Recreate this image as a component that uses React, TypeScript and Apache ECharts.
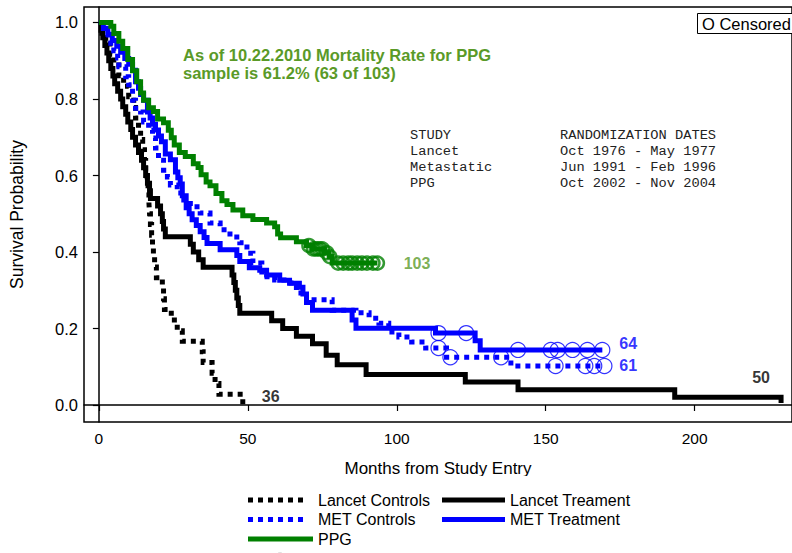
import React, { useEffect, useRef } from "react";
import * as echarts from "echarts";

// Lancet Controls (black dotted)
const lcT = [0,1,2.3,3.7,5,6.7,8.3,10,11.7,12.3,13.3,14,14.7,15.3,15.7,16.2,16.5,16.8,17,17.3,17.7,18,18.3,18.7,19.3,21.3,21.7,22,24.3,26.3,28,34.7,35,38,39,40.3,48.3];
const lcS = [1,.972,.944,.917,.889,.861,.833,.806,.778,.75,.722,.694,.667,.639,.611,.583,.556,.528,.5,.472,.444,.417,.389,.361,.333,.306,.278,.25,.222,.194,.167,.139,.111,.083,.056,.028,0];

// Lancet Treatment (black solid)
const ltT = [0,0.7,1.3,2,2.7,3.3,4,4.7,5.3,6.3,7.3,8,9,9.7,10.7,11.3,12.3,13.3,14.3,15,15.7,16.3,17,17.3,19.7,20.7,21.3,21.7,22.3,30.7,31.7,33.5,35,44.7,45.3,45.8,46.3,46.8,47.3,58,61.7,66.3,71.7,76.3,80,89.7,123,140.7,193.3,229];
const ltS = [1,.98,.96,.94,.92,.90,.88,.86,.84,.82,.80,.78,.76,.74,.72,.70,.68,.66,.64,.62,.60,.58,.56,.54,.52,.50,.48,.46,.44,.42,.40,.38,.36,.34,.32,.30,.28,.26,.24,.22,.20,.18,.16,.13,.105,.08,.06,.04,.02,.005];

// MET Controls (blue dotted)
const mcT = [0,2.3,4,5,6.3,6.7,9,10,11.3,12.3,14,15,16.7,18,19,20,21.7,23,24,26.3,28.5,30.7,34,37.3,40.7,44,47.3,49.7,51.7,54.7,59,63,66.3,69.7,78.3,86.3,90.7,94,97.3,100.7,105,109.7,116.7,138.3,169.7];
const mcS = [1,.967,.946,.926,.907,.884,.858,.837,.797,.776,.766,.74,.719,.698,.672,.64,.614,.596,.575,.554,.536,.518,.502,.476,.458,.439,.424,.397,.371,.335,.327,.319,.293,.275,.248,.241,.227,.214,.191,.178,.165,.149,.125,.102,.102];
const mcCensT = [114,118,135,153.3,163.3,166.3,169.7];
const mcCensS = [.149,.125,.125,.102,.102,.102,.102];

// MET Treatment (blue solid)
const mtT = [0,1.5,3,4.5,6,7.3,8.7,10,11.3,12.3,13.3,14,15,16.3,17.2,18,19,20,21,22.3,24,25.7,26.5,27.3,28,29.3,30.3,31.3,32.7,34,35.3,36.3,40.7,46.3,47.3,50.5,54,56.3,60.7,64,67.3,68.5,69.7,71.7,85,86.3,113,126.3,128,169];
const mtS = [1,.984,.969,.953,.938,.922,.906,.891,.875,.845,.828,.812,.797,.766,.75,.734,.719,.703,.688,.656,.641,.609,.594,.578,.547,.516,.5,.484,.469,.453,.438,.422,.406,.391,.375,.359,.352,.34,.326,.318,.308,.29,.268,.248,.222,.201,.188,.168,.144,.144];
const mtCensT = [114,123.3,140.7,151.7,154,159,164,169];
const mtCensS = [.188,.188,.144,.144,.144,.144,.144,.144];

// PPG (green)
const pgT = [0,4,5,6.7,8,9.7,11.3,12.7,14,15,16.7,18.3,19.7,21.7,23.3,24.3,25.3,27,29,31.7,33.3,34.3,36,37.3,39.3,41.3,43,45,48.3,51.7,56.3,59,60,61,66.3,69.7,71.7,75.7,77.3,78.3,93.5];
const pgS = [1,.99,.971,.951,.932,.903,.874,.845,.816,.797,.777,.767,.748,.738,.718,.699,.68,.66,.65,.631,.621,.602,.583,.573,.553,.534,.524,.51,.495,.485,.476,.466,.447,.437,.427,.417,.408,.398,.388,.371,.371];
const pgCensT = [70.5,72,73,74,75,76.5,77.5,80.3,82,83.7,85,86.7,88.3,90,92,93.5];
const pgCensS = [.417,.408,.408,.408,.408,.398,.388,.371,.371,.371,.371,.371,.371,.371,.371,.371];

const xTicks = [0, 50, 100, 150, 200];
const yTicks = [0, 0.2, 0.4, 0.6, 0.8, 1.0];

const countLabels = [
  { text: "36", x: 54.7, y: 0.021, color: "#000" },
  { text: "103", x: 102.3, y: 0.371, color: "#5a9a28" },
  { text: "64", x: 174.7, y: 0.162, color: "#0000ff" },
  { text: "61", x: 174.7, y: 0.102, color: "#0000ff" },
  { text: "50", x: 219.3, y: 0.071, color: "#000" },
];

const tableRows = [
  ["STUDY", "RANDOMIZATION DATES"],
  ["Lancet", "Oct 1976 - May 1977"],
  ["Metastatic", "Jun 1991 - Feb 1996"],
  ["PPG", "Oct 2002 - Nov 2004"],
];

const legendItems = [
  { name: "Lancet Controls", color: "#000", dash: true, col: 0, row: 0 },
  { name: "Lancet Treament", color: "#000", dash: false, col: 1, row: 0 },
  { name: "MET Controls", color: "#0000ff", dash: true, col: 0, row: 1 },
  { name: "MET Treatment", color: "#0000ff", dash: false, col: 1, row: 1 },
  { name: "PPG", color: "#008000", dash: false, col: 0, row: 2 },
];

const zip = (t: number[], s: number[]) => t.map((v, i) => [v, s[i]]);
const FONT = "'Liberation Sans', Arial, Helvetica, sans-serif";

export default function App() {
  const ref = useRef<HTMLDivElement>(null);
  useEffect(() => {
    document.body.style.margin = "0";
    const chart = echarts.init(ref.current!, null, { renderer: "svg" });

    const lineSeries = (name: string, t: number[], s: number[], color: string, dashed: boolean) => ({
      name,
      type: "line",
      step: "end",
      showSymbol: false,
      symbol: "none",
      data: zip(t, s),
      lineStyle: { color, width: 5, type: dashed ? [5, 5] : "solid", cap: "butt", join: "miter" },
      z: 2,
      silent: true,
    });
    const censSeries = (t: number[], s: number[], color: string, size: number, bw: number) => ({
      type: "scatter",
      symbol: "circle",
      symbolSize: size,
      data: zip(t, s),
      itemStyle: { color: "rgba(0,0,0,0)", borderColor: color, borderWidth: bw },
      z: 4,
      silent: true,
    });

    const graphics: any[] = [];
    // censored box
    graphics.push({ type: "rect", shape: { x: 697.5, y: 13.5, width: 100, height: 20 }, style: { fill: "#fff", stroke: "#000", lineWidth: 1 }, z: 10 });
    graphics.push({ type: "text", x: 702, y: 24, style: { text: "O Censored", font: `16.5px ${FONT}`, fill: "#000", verticalAlign: "middle" }, z: 11 });
    // annotation
    graphics.push({ type: "text", x: 183, y: 55, style: { text: "As of 10.22.2010 Mortality Rate for PPG", font: `bold 16.5px ${FONT}`, fill: "#5a9a28", verticalAlign: "middle" }, z: 10 });
    graphics.push({ type: "text", x: 183, y: 73, style: { text: "sample is 61.2% (63 of 103)", font: `bold 16.5px ${FONT}`, fill: "#5a9a28", verticalAlign: "middle" }, z: 10 });
    // table
    tableRows.forEach((r, i) => {
      graphics.push({ type: "text", x: 410, y: 135 + i * 16, style: { text: r[0], font: `13.7px 'Liberation Mono', 'Courier New', monospace`, fill: "#222", verticalAlign: "middle" }, z: 10 });
      graphics.push({ type: "text", x: 560, y: 135 + i * 16, style: { text: r[1], font: `13.7px 'Liberation Mono', 'Courier New', monospace`, fill: "#222", verticalAlign: "middle" }, z: 10 });
    });
    // cover descenders of x-axis title like the reference
    graphics.push({ type: "rect", shape: { x: 330, y: 476, width: 220, height: 12 }, style: { fill: "#fff" }, z: 20 });
    // legend
    legendItems.forEach((it) => {
      const x0 = it.col === 0 ? 248 : 442;
      const y = 500 + it.row * 19.5;
      const len = it.name === "PPG" ? 65 : it.dash ? 55 : 63;
      graphics.push({
        type: "line",
        shape: { x1: x0, y1: y, x2: x0 + len, y2: y },
        style: { stroke: it.color, lineWidth: 5, lineDash: it.dash ? [5, 5] : null },
        z: 21,
      });
      graphics.push({ type: "text", x: it.col === 0 ? 318 : 510, y, style: { text: it.name, font: `16px ${FONT}`, fill: "#000", verticalAlign: "middle" }, z: 21 });
    });
    graphics.push({ type: "circle", shape: { cx: 280, cy: 560, r: 7 }, style: { fill: "none", stroke: "#bbb", lineWidth: 1 }, z: 21 });

    chart.setOption({
      animation: false,
      backgroundColor: "#fff",
      grid: { left: 83, top: 7, right: -2, bottom: 131, show: true, borderColor: "#000", borderWidth: 1.5, containLabel: false },
      xAxis: {
        type: "value",
        min: -5,
        max: 232.67,
        name: "Months from Study Entry",
        nameLocation: "middle",
        nameGap: 38,
        nameTextStyle: { fontSize: 17, color: "#000", fontFamily: FONT },
        axisLine: { show: true, lineStyle: { color: "#000", width: 1.5 } },
        axisTick: { show: true, length: 6, customValues: xTicks, lineStyle: { color: "#000", width: 1.2 } },
        axisLabel: { customValues: xTicks, fontSize: 15.5, color: "#000", fontFamily: FONT, margin: 8 },
        splitLine: { show: false },
      },
      yAxis: {
        type: "value",
        min: -0.0444,
        max: 1.0405,
        name: "Survival Probability",
        nameLocation: "middle",
        nameGap: 58,
        nameRotate: 90,
        nameTextStyle: { fontSize: 17.5, color: "#000", fontFamily: FONT },
        axisLine: { show: true, lineStyle: { color: "#000", width: 1.5 } },
        axisTick: { show: true, length: 6, customValues: yTicks, lineStyle: { color: "#000", width: 1.2 } },
        axisLabel: { customValues: yTicks, fontSize: 16.5, color: "#000", fontFamily: FONT, margin: 6, formatter: (v: number) => v.toFixed(1) },
        splitLine: { show: false },
      },
      series: [
        lineSeries("Lancet Controls", lcT, lcS, "#000", true),
        lineSeries("Lancet Treament", ltT, ltS, "#000", false),
        lineSeries("MET Controls", mcT, mcS, "#0000ff", true),
        lineSeries("MET Treatment", mtT, mtS, "#0000ff", false),
        lineSeries("PPG", pgT, pgS, "#008000", false),
        censSeries(mcCensT, mcCensS, "#0000ff", 15, 1.2),
        censSeries(mtCensT, mtCensS, "#0000ff", 15, 1.2),
        censSeries(pgCensT, pgCensS, "#008000", 13, 2.5),
        {
          type: "scatter",
          symbolSize: 0,
          silent: true,
          z: 5,
          data: countLabels.map((c) => ({
            value: [c.x, c.y],
            label: { show: true, position: "right", distance: 0, formatter: c.text, color: c.color, fontWeight: "bold", fontSize: 16, fontFamily: FONT },
          })),
        },
      ],
      graphic: graphics,
    });
    return () => chart.dispose();
  }, []);
  return <div ref={ref} style={{ width: 792, height: 553 }} />;
}
